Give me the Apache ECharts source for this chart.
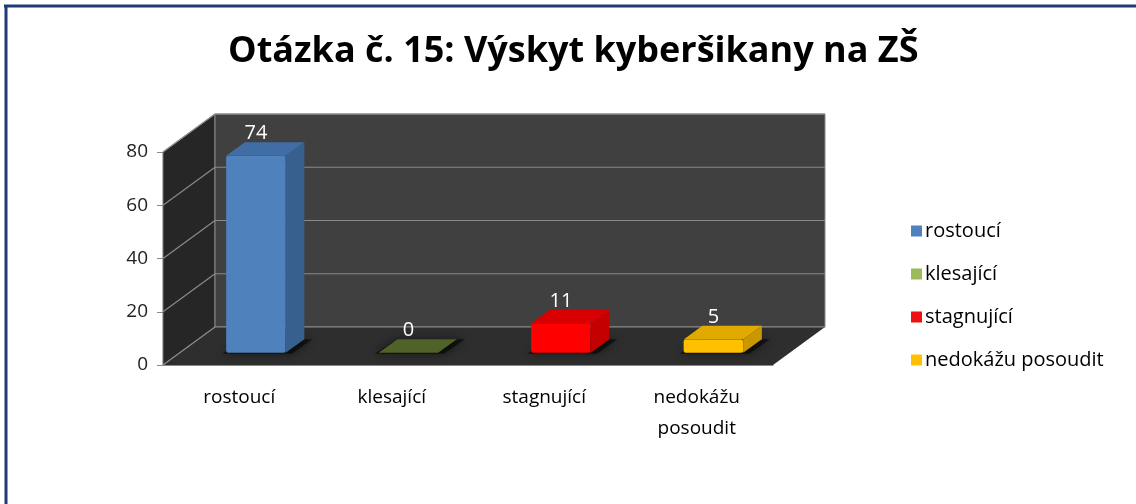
<!DOCTYPE html>
<html>
<head>
<meta charset="utf-8">
<script src="https://cdn.jsdelivr.net/npm/echarts@6/dist/echarts.min.js"></script>
<style>
html, body { margin: 0; padding: 0; background: #fff; }
#chart { width: 1136px; height: 504px; }
</style>
</head>
<body>
<div id="chart"></div>
<script>
var categories = ['rostoucí', 'klesající', 'stagnující', 'nedokážu posoudit'];
var values = [74, 0, 11, 5];
var yTicks = [0, 20, 40, 60, 80];

// colours per category: front, side, top, legend
var frontColors = ['#4f81bd', '#4f6228', '#ff0000', '#ffc000'];
var sideColors = ['#38608f', '#3d4d1f', '#c40000', '#c99700'];
var topColors = ['#406da3', '#4f6228', '#d80000', '#e0aa00'];
var legendColors = ['#4f81bd', '#9bbb59', '#ee1111', '#ffc000'];

// fake 3d depth of the plot box
var DX = 52, DY = 38;
var D0 = 0.32, D1 = 0.68;

var FONT = 'Open Sans';

var myChart = echarts.init(document.getElementById('chart'));

function renderWalls(params, api) {
	var cs = params.coordSys;
	var l = cs.x, r = cs.x + cs.width, t = cs.y, b = cs.y + cs.height;
	var kids = [];
	// side wall
	kids.push({
		type: 'polygon',
		shape: { points: [[l, t], [l + DX, t - DY], [l + DX, b - DY], [l, b]] },
		style: { fill: '#262626', stroke: '#7a7a7a', lineWidth: 1 }
	});
	// back wall
	kids.push({
		type: 'rect',
		shape: { x: l + DX, y: t - DY, width: cs.width, height: cs.height },
		style: { fill: '#404040', stroke: '#8a8a8a', lineWidth: 1 }
	});
	// floor
	kids.push({
		type: 'polygon',
		shape: { points: [[l, b], [l + DX, b - DY], [r + DX, b - DY], [r, b]] },
		style: { fill: '#2e2e2e' }
	});
	yTicks.forEach(function (v) {
		var y = api.coord([0, v])[1];
		kids.push({
			type: 'line',
			shape: { x1: l + DX, y1: y - DY, x2: r + DX, y2: y - DY },
			style: { stroke: '#8a8a8a', lineWidth: 1.2 }
		});
		kids.push({
			type: 'line',
			shape: { x1: l, y1: y, x2: l + DX, y2: y - DY },
			style: { stroke: '#8a8a8a', lineWidth: 1.2 }
		});
	});
	return { type: 'group', children: kids };
}

function makeBarRenderer(i) {
	return function (params, api) {
		var idx = api.value(0), val = api.value(1);
		var base = api.coord([idx, 0]);
		var top = api.coord([idx, val]);
		var bw = api.size([1, 0])[0] * 0.39;
		var ddx = DX * (D1 - D0), ddy = DY * (D1 - D0);
		var x0 = base[0] - bw / 2 + DX * D0;
		var x1 = x0 + bw;
		var yb = base[1] - DY * D0;
		var yt = top[1] - DY * D0;
		var kids = [];
		// shadow on the floor
		kids.push({
			type: 'polygon',
			shape: { points: [[x0 - 4, yb + 1], [x0 + ddx, yb - ddy], [x1 + ddx + 8, yb - ddy], [x1 + 6, yb + 1]] },
			style: { fill: 'rgba(0,0,0,0.55)', shadowBlur: 10, shadowColor: 'rgba(0,0,0,0.9)' }
		});
		if (yb - yt > 0.5) {
			kids.push({
				type: 'rect',
				shape: { x: x0, y: yt, width: bw, height: yb - yt, r: 2 },
				style: { fill: frontColors[i] }
			});
			kids.push({
				type: 'polygon',
				shape: { points: [[x1, yt], [x1 + ddx, yt - ddy], [x1 + ddx, yb - ddy], [x1, yb]] },
				style: { fill: sideColors[i] }
			});
		}
		kids.push({
			type: 'polygon',
			shape: { points: [[x0, yt], [x0 + ddx, yt - ddy], [x1 + ddx, yt - ddy], [x1, yt]] },
			style: { fill: topColors[i] }
		});
		kids.push({
			type: 'text',
			x: x0 + bw / 2,
			y: yt - ddy + 1,
			style: {
				text: String(val),
				fill: '#ffffff',
				font: '20px "' + FONT + '"',
				align: 'center',
				verticalAlign: 'bottom'
			}
		});
		return { type: 'group', children: kids };
	};
}

var series = [{
	type: 'custom',
	name: 'walls',
	silent: true,
	z: 1,
	renderItem: renderWalls,
	data: [[0, 0]]
}];
categories.forEach(function (c, i) {
	series.push({
		type: 'custom',
		name: c,
		z: 2 + i,
		itemStyle: { color: legendColors[i] },
		renderItem: makeBarRenderer(i),
		data: [[i, values[i]]]
	});
});

var option = {
	animation: false,
	backgroundColor: '#ffffff',
	title: {
		text: 'Otázka č. 15: Výskyt kyberšikany na ZŠ',
		left: 223,
		top: 29,
		textStyle: { fontFamily: FONT, fontSize: 36, fontWeight: 'bold', color: '#000' }
	},
	legend: {
		data: categories,
		orient: 'vertical',
		left: 906,
		top: 216,
		itemWidth: 11,
		itemHeight: 11,
		itemGap: 23,
		icon: 'rect',
		textStyle: { fontFamily: FONT, fontSize: 20, color: '#000', padding: [0, 0, 0, -2] }
	},
	grid: { left: 163, top: 152, width: 610, height: 213 },
	xAxis: {
		type: 'category',
		data: categories,
		axisLine: { show: true, lineStyle: { color: '#8a8a8a', width: 1.2 } },
		axisTick: { show: false },
		axisLabel: {
			margin: 17,
			fontFamily: FONT,
			fontSize: 19,
			color: '#000',
			lineHeight: 31,
			formatter: function (v) { return v.replace(' ', '\n'); }
		}
	},
	yAxis: {
		type: 'value',
		min: 0,
		max: 80,
		interval: 20,
		axisLine: { show: true, lineStyle: { color: '#8a8a8a', width: 1.2 } },
		axisTick: { show: true, length: 6, lineStyle: { color: '#8a8a8a' } },
		splitLine: { show: false },
		axisLabel: { margin: 15, fontFamily: FONT, fontSize: 19, color: '#222' }
	},
	graphic: [
		{ type: 'line', shape: { x1: 4, y1: 6, x2: 1136, y2: 6 }, style: { stroke: '#1f3a78', lineWidth: 3 } },
		{ type: 'line', shape: { x1: 6, y1: 5, x2: 6, y2: 504 }, style: { stroke: '#1f3a78', lineWidth: 3 } }
	],
	series: series
};
myChart.setOption(option);
</script>
</body>
</html>
